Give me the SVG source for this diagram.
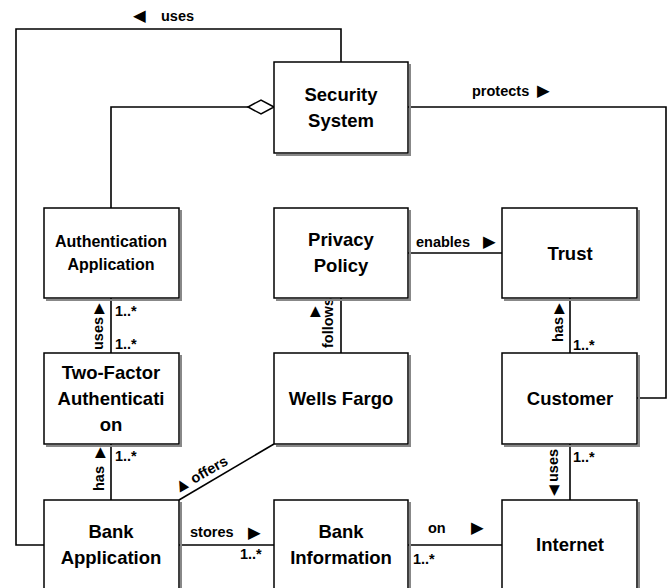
<svg xmlns="http://www.w3.org/2000/svg" width="670" height="588" viewBox="0 0 670 588">
<style>
.box{fill:#fff;stroke:#000;stroke-width:1.5}
.sh{fill:none;stroke:#888;stroke-width:2}
.t{font-family:"Liberation Sans",Arial,sans-serif;font-weight:bold;font-size:18.5px;text-anchor:middle;fill:#000}
.ts{font-size:16px}
.l{font-family:"Liberation Sans",Arial,sans-serif;font-weight:bold;font-size:14.5px;fill:#000}
.a{font-family:"DejaVu Sans",sans-serif;font-size:14px;fill:#000}
.ah{font-family:"DejaVu Sans",sans-serif;font-size:16.5px;fill:#000}
.c{fill:none;stroke:#000;stroke-width:1.6}
</style>
<rect width="670" height="588" fill="#fff"/>
<g id="connectors">
<polyline class="c" points="341,62 341,29 16,29 16,545 44,545"/>
<polyline class="c" points="248,107 111,107 111,208"/>
<polygon points="274,107 261,100 248,107 261,114" fill="#fff" stroke="#000" stroke-width="1.5"/>
<polyline class="c" points="408,107 666,107 666,398 637,398"/>
<line class="c" x1="408" y1="253" x2="502" y2="253"/>
<line class="c" x1="111" y1="298" x2="111" y2="353"/>
<line class="c" x1="111" y1="444" x2="111" y2="500"/>
<line class="c" x1="341" y1="298" x2="341" y2="353"/>
<line class="c" x1="570" y1="298" x2="570" y2="353"/>
<line class="c" x1="570" y1="444" x2="570" y2="500"/>
<line class="c" x1="274" y1="444" x2="179" y2="500"/>
<line class="c" x1="179" y1="545" x2="274" y2="545"/>
<line class="c" x1="408" y1="545" x2="502" y2="545"/>
<text class="ah" x="133" y="21">◀</text>
<text class="l" x="161" y="21">uses</text>
<text class="l" x="472" y="96">protects</text>
<text class="ah" x="537" y="96">▶</text>
<text class="l" x="416" y="247">enables</text>
<text class="ah" x="483" y="247">▶</text>
<text class="l" transform="translate(103,350) rotate(-90)">uses</text>
<text class="a" transform="translate(103,314) rotate(-90)">▶</text>
<text class="l" x="115" y="316">1..*</text>
<text class="l" x="115" y="349">1..*</text>
<text class="l" transform="translate(104,491) rotate(-90)">has</text>
<text class="a" transform="translate(104,458) rotate(-90)">▶</text>
<text class="l" x="115" y="461">1..*</text>
<text class="l" transform="translate(333,348) rotate(-90)">follows</text>
<text class="a" transform="translate(319,317) rotate(-90)">▶</text>
<text class="l" transform="translate(563,342) rotate(-90)">has</text>
<text class="a" transform="translate(563,314) rotate(-90)">▶</text>
<text class="l" x="573" y="350">1..*</text>
<text class="l" transform="translate(558,482) rotate(-90)">uses</text>
<text class="a" transform="translate(558,496) rotate(-90)">◀</text>
<text class="l" x="573" y="462">1..*</text>
<text class="a" transform="translate(179,491) rotate(-30)">▲</text>
<text class="l" transform="translate(194,484) rotate(-30)">offers</text>
<text class="l" x="190" y="537">stores</text>
<text class="ah" x="248" y="538">▶</text>
<text class="l" x="240" y="559">1..*</text>
<text class="l" x="428" y="533">on</text>
<text class="ah" x="471" y="533">▶</text>
<text class="l" x="413" y="564">1..*</text>
</g>
<g id="security-system">
<polyline class="sh" points="276,155 410,155 410,64"/>
<rect class="box" x="274" y="62" width="134" height="91"/>
<text class="t" x="341" y="101">Security</text>
<text class="t" x="341" y="127">System</text>
</g>
<g id="authentication-application">
<polyline class="sh" points="46,300 181,300 181,210"/>
<rect class="box" x="44" y="208" width="135" height="90"/>
<text class="t ts" x="111" y="247">Authentication</text>
<text class="t ts" x="111" y="270">Application</text>
</g>
<g id="privacy-policy">
<polyline class="sh" points="276,300 410,300 410,210"/>
<rect class="box" x="274" y="208" width="134" height="90"/>
<text class="t" x="341" y="246">Privacy</text>
<text class="t" x="341" y="272">Policy</text>
</g>
<g id="trust">
<polyline class="sh" points="504,300 639,300 639,210"/>
<rect class="box" x="502" y="208" width="135" height="90"/>
<text class="t" x="570" y="260">Trust</text>
</g>
<g id="two-factor-authentication">
<polyline class="sh" points="46,446 181,446 181,355"/>
<rect class="box" x="44" y="353" width="135" height="91"/>
<text class="t" x="111" y="379">Two-Factor</text>
<text class="t" x="111" y="405">Authenticati</text>
<text class="t" x="111" y="431">on</text>
</g>
<g id="wells-fargo">
<polyline class="sh" points="276,446 410,446 410,355"/>
<rect class="box" x="274" y="353" width="134" height="91"/>
<text class="t" x="341" y="405">Wells Fargo</text>
</g>
<g id="customer">
<polyline class="sh" points="504,446 639,446 639,355"/>
<rect class="box" x="502" y="353" width="135" height="91"/>
<text class="t" x="570" y="405">Customer</text>
</g>
<g id="bank-application">
<polyline class="sh" points="181,502 181,592"/>
<rect class="box" x="44" y="500" width="135" height="95"/>
<text class="t" x="111" y="538">Bank</text>
<text class="t" x="111" y="564">Application</text>
</g>
<g id="bank-information">
<polyline class="sh" points="410,502 410,592"/>
<rect class="box" x="274" y="500" width="134" height="95"/>
<text class="t" x="341" y="538">Bank</text>
<text class="t" x="341" y="564">Information</text>
</g>
<g id="internet">
<polyline class="sh" points="639,502 639,592"/>
<rect class="box" x="502" y="500" width="135" height="95"/>
<text class="t" x="570" y="551">Internet</text>
</g>
</svg>
